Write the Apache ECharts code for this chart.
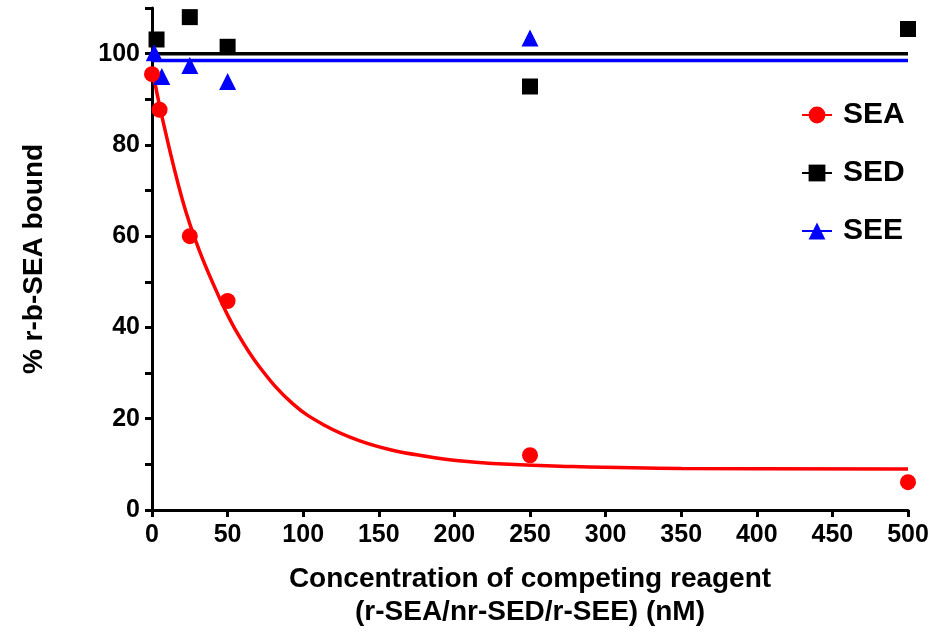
<!DOCTYPE html>
<html>
<head>
<meta charset="utf-8">
<script src="https://cdn.jsdelivr.net/npm/echarts@6/dist/echarts.min.js"></script>
<style>
  html, body { margin: 0; padding: 0; background: #fff; }
  #chart { width: 935px; height: 634px; }
</style>
</head>
<body>
<div id="chart"></div>
<script>
// Measured binding (% r-b-SEA bound) versus competitor concentration (nM)
const seaX = [0, 5, 25, 50, 250, 500];
const seaY = [95.5, 87.7, 60.0, 45.8, 12.0, 6.1];

const sedX = [3, 25, 50, 250, 500];
const sedY = [103.1, 108.0, 101.5, 92.8, 105.4];

const seeX = [1.5, 6.5, 25, 50, 250];
const seeY = [100.2, 95.0, 97.4, 93.9, 103.4];

// Fitted curve for SEA (one-phase decay), sampled along x
const seaFitX = [0, 7, 20, 31, 45, 55, 71, 93, 115, 137, 159, 181, 203, 225, 270, 350, 500];
const seaFitY = [97.0, 85.6, 68.1, 57.1, 46.2, 39.6, 31.4, 23.3, 18.4, 15.2, 13.1, 11.8, 10.8, 10.2, 9.6, 9.1, 9.0];

// Horizontal fits for SED and SEE
const sedFitX = [0, 500];
const sedFitY = [100.0, 100.0];
const seeFitX = [0, 500];
const seeFitY = [98.5, 98.5];

// Axis tick values
const xTicks = [0, 50, 100, 150, 200, 250, 300, 350, 400, 450, 500];
const yTicks = [0, 20, 40, 60, 80, 100];

const pairs = (xs, ys) => xs.map((x, i) => [x, ys[i]]);

const FONT = "'Liberation Sans', Arial, sans-serif";
const RED = '#ff0000', BLACK = '#000000', BLUE = '#0000ff';

const chart = echarts.init(document.getElementById('chart'), null, { renderer: 'canvas' });

chart.setOption({
  animation: false,
  backgroundColor: '#ffffff',
  grid: { left: 152, right: 27, top: 8, bottom: 123, containLabel: false },
  legend: {
    orient: 'vertical',
    left: 796,
    top: 95,
    itemWidth: 30,
    itemHeight: 21,
    itemGap: 28,
    data: ['SEA', 'SED', 'SEE'],
    textStyle: { fontFamily: FONT, fontWeight: 'bold', fontSize: 30, color: '#000', padding: [0, 0, 0, 6] }
  },
  xAxis: {
    type: 'value',
    min: 0, max: 500, interval: 50,
    name: 'Concentration of competing reagent\n(r-SEA/nr-SED/r-SEE) (nM)',
    nameLocation: 'middle',
    nameGap: 53,
    nameTextStyle: { fontFamily: FONT, fontWeight: 'bold', fontSize: 28, color: '#000', lineHeight: 33 },
    axisLine: { show: true, lineStyle: { color: '#000', width: 3 } },
    axisTick: { show: true, length: 7, lineStyle: { color: '#000', width: 3 } },
    axisLabel: {
      fontFamily: FONT, fontWeight: 'bold', fontSize: 25, color: '#000', margin: 13,
      formatter: v => xTicks.includes(v) ? String(v) : ''
    },
    splitLine: { show: false }
  },
  yAxis: {
    type: 'value',
    min: 0, max: 110, interval: 20,
    name: '% r-b-SEA bound',
    nameLocation: 'middle',
    nameRotate: 90,
    nameGap: 104,
    nameTextStyle: { fontFamily: FONT, fontWeight: 'bold', fontSize: 28, color: '#000' },
    axisLine: { show: true, lineStyle: { color: '#000', width: 3 } },
    axisTick: { show: true, length: 7, lineStyle: { color: '#000', width: 3 } },
    minorTick: { show: true, splitNumber: 2, length: 7, lineStyle: { color: '#000', width: 3 } },
    axisLabel: {
      fontFamily: FONT, fontWeight: 'bold', fontSize: 25, color: '#000', margin: 12,
      formatter: v => yTicks.includes(v) ? String(v) : ''
    },
    splitLine: { show: false }
  },
  series: [
    {
      name: 'SED', type: 'line', data: pairs(sedFitX, sedFitY),
      symbol: 'rect', symbolSize: 16, showSymbol: false,
      itemStyle: { color: BLACK, opacity: 1 }, lineStyle: { color: BLACK, width: 3.5 }, z: 2
    },
    {
      name: 'SEE', type: 'line', data: pairs(seeFitX, seeFitY),
      symbol: 'triangle', symbolSize: 16, showSymbol: false,
      itemStyle: { color: BLUE, opacity: 1 }, lineStyle: { color: BLUE, width: 3.5 }, z: 2
    },
    {
      name: 'SEA', type: 'line', data: pairs(seaFitX, seaFitY),
      symbol: 'circle', symbolSize: 16, showSymbol: false,
      smooth: 0.4,
      itemStyle: { color: RED, opacity: 1 }, lineStyle: { color: RED, width: 3.5 }, z: 3
    },
    {
      name: 'SED', type: 'scatter', data: pairs(sedX, sedY),
      symbol: 'rect', symbolSize: 16, itemStyle: { color: BLACK, opacity: 1 }, z: 4
    },
    {
      name: 'SEE', type: 'scatter', data: pairs(seeX, seeY),
      symbol: 'triangle', symbolSize: 17, itemStyle: { color: BLUE, opacity: 1 }, z: 5
    },
    {
      name: 'SEA', type: 'scatter', data: pairs(seaX, seaY),
      symbol: 'circle', symbolSize: 16, itemStyle: { color: RED, opacity: 1 }, z: 6
    }
  ]
});
</script>
</body>
</html>
